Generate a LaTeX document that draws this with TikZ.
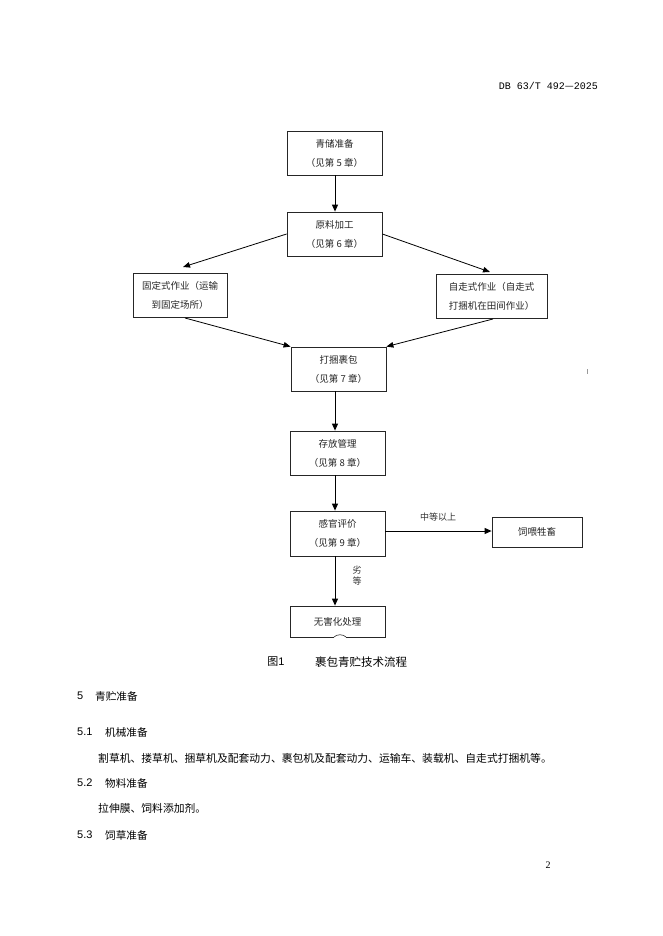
\documentclass[tikz,border=0pt]{standalone}
\usepackage{fontspec}
\setmainfont{Liberation Serif}
\newfontfamily\cjk{Noto Sans CJK SC}
\newfontfamily\latsans{Liberation Sans}
\newfontfamily\latmono{Liberation Mono}
\usetikzlibrary{arrows.meta,calc}
\begin{document}
\begin{tikzpicture}[x=1pt,y=-1pt,
  boxnode/.style={draw=black!85,line width=0.8pt,inner sep=0pt,align=center,
    text=black!85,font=\cjk\fontsize{9.5}{19}\selectfont},
  arr/.style={line width=1pt,-{Triangle[length=7pt,width=6pt]}},
  darr/.style={line width=0.8pt,-{Triangle[length=7pt,width=5.5pt]}},
  lbl/.style={inner sep=0pt,text=black!80,font=\cjk\fontsize{9}{10}\selectfont},
  bodytxt/.style={inner sep=0pt,anchor=west,font=\cjk\fontsize{10.8}{12}\selectfont},
  headnum/.style={inner sep=0pt,anchor=west,font=\latsans\fontsize{11}{12}\selectfont},
  headtxt/.style={inner sep=0pt,anchor=west,font=\cjk\fontsize{10.6}{12}\selectfont}]
\useasboundingbox[fill=white] (0,0) rectangle (662,936);

% header
\node[inner sep=0pt,anchor=east,font=\latmono\fontsize{10}{12}\selectfont] (hdr) at (598,86) {DB 63/T 492{\cjk —}2025};

% boxes
\node[boxnode,minimum width=95pt,minimum height=44pt] (b1) at (334.5,153) {青储准备\\（见第 5 章）};
\node[boxnode,minimum width=95pt,minimum height=44pt] (b2) at (334.5,234) {原料加工\\（见第 6 章）};
\node[boxnode,minimum width=94pt,minimum height=44pt] (bl) at (180,295) {固定式作业（运输\\到固定场所）};
\node[boxnode,minimum width=111pt,minimum height=44pt] (br) at (491.5,296) {自走式作业（自走式\\打捆机在田间作业）};
\node[boxnode,minimum width=95pt,minimum height=44pt] (b3) at (338.5,369) {打捆裹包\\（见第 7 章）};
\node[boxnode,minimum width=95pt,minimum height=44pt] (b4) at (337.5,453) {存放管理\\（见第 8 章）};
\node[boxnode,minimum width=95pt,minimum height=45pt] (b5) at (337.5,533.5) {感官评价\\（见第 9 章）};
\node[boxnode,minimum width=90pt,minimum height=30pt] (b6) at (537,532) {饲喂牲畜};
\node[boxnode,minimum width=95pt,minimum height=31pt] (b7) at (337.5,621.5) {无害化处理};

% tip coordinates
\coordinate (tl) at (183,267);
\coordinate (tr) at (490,272);
\coordinate (sl) at (185,318);
\coordinate (sr) at (493,319);

% connectors
\draw[arr] (b1.south -| 335,0) -- (b2.north -| 335,0);
\draw[darr] (b2.west) -- (tl);
\draw[darr] (b2.east) -- (tr);
\draw[darr] (sl) -- (b3.north west);
\draw[darr] (sr) -- (b3.north east);
\draw[arr] (b3.south -| 335,0) -- (b4.north -| 335,0);
\draw[arr] (b4.south -| 335,0) -- (b5.north -| 335,0);
\draw[arr] (b5.south -| 335,0) -- (b7.north -| 335,0);
\draw[arr] (b5.east |- 0,531) -- (b6.west |- 0,531);
\fill[white] (334,636.2) rectangle (346,638);
\draw[black!85,line width=0.6pt] (334,637) .. controls (337,634) and (343,634) .. (346,637);

% labels
\node[lbl] (lup) at (438,517) {中等以上};
\node[lbl,align=center,font=\cjk\fontsize{9}{11}\selectfont] (ldown) at (357,576) {劣\\等};

% tiny marks
\draw[black!40,line width=0.6pt] (587,369) -- (587,374);

% caption
\node[inner sep=0pt,font=\latsans\fontsize{11}{12}\selectfont] (fig) at (276,662) {\cjk 图\latsans 1};
\node[inner sep=0pt,font=\cjk\fontsize{11.5}{12}\selectfont] (cap) at (361,662) {裹包青贮技术流程};

% body
\node[headnum] (h5) at (77,696) {5};
\node[headtxt] (h5t) at (95,696) {青贮准备};
\node[headnum] (h51) at (77,732) {5.1};
\node[headtxt] (h51t) at (105,732) {机械准备};
\node[bodytxt] (p1) at (98,758) {割草机、搂草机、捆草机及配套动力、裹包机及配套动力、运输车、装载机、自走式打捆机等。};
\node[headnum] (h52) at (77,783) {5.2};
\node[headtxt] (h52t) at (105,783) {物料准备};
\node[bodytxt] (p2) at (98,808) {拉伸膜、饲料添加剂。};
\node[headnum] (h53) at (77,835) {5.3};
\node[headtxt] (h53t) at (105,835) {饲草准备};
\node[inner sep=0pt,font=\fontsize{10}{12}\selectfont] (pg) at (548,865) {2};
\end{tikzpicture}
\end{document}
